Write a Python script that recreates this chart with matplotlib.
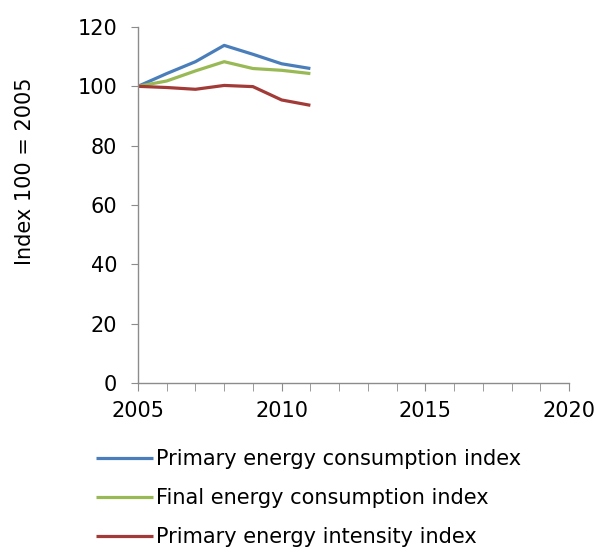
import matplotlib
matplotlib.use("Agg")
import matplotlib.pyplot as plt
from matplotlib.ticker import MultipleLocator

# Data
years = [2005, 2006, 2007, 2008, 2009, 2010, 2011]
primary_consumption = [100, 104.3, 108.3, 113.8, 110.8, 107.6, 106.0]
final_consumption = [100, 101.8, 105.2, 108.3, 106.0, 105.4, 104.3]
primary_intensity = [100, 99.6, 99.0, 100.3, 99.9, 95.4, 93.6]

labels = ["Primary energy consumption index",
          "Final energy consumption index",
          "Primary energy intensity index"]
colors = ["#4A7EBB", "#98B954", "#A23B37"]

fs = 15

fig = plt.figure(figsize=(5.96, 5.53), dpi=100)
ax = fig.add_axes([0.2315, 0.3074, 0.7232, 0.6438])

for vals, lab, c in zip([primary_consumption, final_consumption, primary_intensity], labels, colors):
    ax.plot(years, vals, color=c, linewidth=2.3, label=lab, solid_capstyle="butt")

ax.set_xlim(2005, 2020)
ax.set_ylim(0, 120)
ax.xaxis.set_major_locator(MultipleLocator(5))
ax.xaxis.set_minor_locator(MultipleLocator(1))
ax.yaxis.set_major_locator(MultipleLocator(20))

for s in ["top", "right"]:
    ax.spines[s].set_visible(False)
for s in ["left", "bottom"]:
    ax.spines[s].set_color("#8c8c8c")
    ax.spines[s].set_linewidth(1.0)

ax.tick_params(axis="both", which="both", colors="#8c8c8c", labelcolor="black",
               labelsize=fs, direction="out")
ax.tick_params(axis="x", which="major", length=6, pad=7)
ax.tick_params(axis="x", which="minor", length=6)
ax.tick_params(axis="y", length=5, pad=10)

fig.text(25 / 596, 1 - 171 / 553, "Index 100 = 2005", rotation=90,
         ha="center", va="center", fontsize=fs)

fig.legend(loc="upper left", bbox_to_anchor=(88 / 596, 1 - 441 / 553),
           frameon=False, fontsize=fs, handlelength=2.7, handletextpad=0.15,
           labelspacing=0.9, borderaxespad=0)

fig.savefig("out.png", dpi=100)
